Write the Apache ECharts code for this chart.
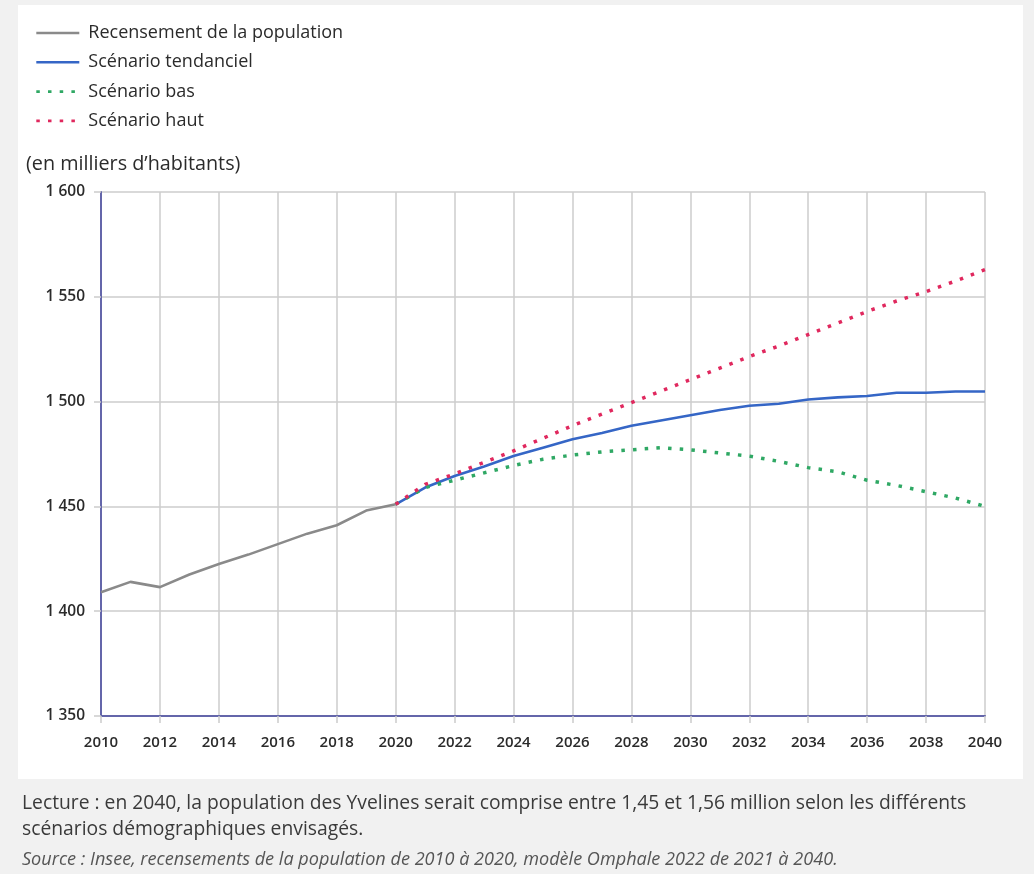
<!DOCTYPE html>
<html>
<head>
<meta charset="utf-8">
<script src="https://cdn.jsdelivr.net/npm/echarts@6/dist/echarts.min.js"></script>
<style>
  html, body { margin: 0; padding: 0; background: #f1f1f1; }
  #chart { width: 1034px; height: 874px; }
</style>
</head>
<body>
<div id="chart"></div>
<script>
// ---- data (en milliers d'habitants) ----
const censusYears = [2010, 2011, 2012, 2013, 2014, 2015, 2016, 2017, 2018, 2019, 2020];
const censusValues = [1409, 1414, 1411.5, 1417.5, 1422.5, 1427, 1432, 1437, 1441, 1448, 1451];

const projYears = [2020, 2021, 2022, 2023, 2024, 2025, 2026, 2027, 2028, 2029, 2030,
                   2031, 2032, 2033, 2034, 2035, 2036, 2037, 2038, 2039, 2040];
const trendValues = [1451, 1459, 1464.5, 1469, 1474, 1478, 1482, 1485, 1488.5, 1491, 1493.5,
                     1496, 1498, 1499, 1501, 1502, 1502.7, 1504.2, 1504.2, 1504.8, 1504.8];
const lowValues = [1451, 1459, 1462.5, 1466, 1469.5, 1472.5, 1474.5, 1476, 1477, 1478, 1477,
                   1475.5, 1474, 1471.5, 1468.5, 1466.5, 1462.5, 1460, 1457, 1454, 1450];
const highValues = [1451, 1460.5, 1465.5, 1471, 1476.5, 1482.5, 1488.5, 1494, 1499.5, 1505, 1510.5,
                    1516, 1521.5, 1526.5, 1532, 1537.5, 1543, 1548, 1552.5, 1557.5, 1563];

const seriesNames = ['Recensement de la population', 'Scénario tendanciel', 'Scénario bas', 'Scénario haut'];
const yMin = 1350, yMax = 1600, yStep = 50;
const xMin = 2010, xMax = 2040, xStep = 2;

const unitLabel = '(en milliers d\u2019habitants)';
const noteLine1 = 'Lecture : en 2040, la population des Yvelines serait comprise entre 1,45 et 1,56 million selon les différents';
const noteLine2 = 'scénarios démographiques envisagés.';
const sourceLine = 'Source : Insee, recensements de la population de 2010 à 2020, modèle Omphale 2022 de 2021 à 2040.';

const pairs = (xs, ys) => xs.map((x, i) => [x, ys[i]]);
const fmtThousands = v => String(v).replace(/\B(?=(\d{3})+(?!\d))/g, ' ');

const chart = echarts.init(document.getElementById('chart'), null, { renderer: 'canvas' });
const FONT = '"Open Sans", "Noto Sans", sans-serif';

chart.setOption({
  backgroundColor: 'transparent',
  animation: false,
  textStyle: { fontFamily: FONT },
  graphic: [
    { type: 'rect', z: -10, silent: true,
      shape: { x: 18, y: 5, width: 1005, height: 774 },
      style: { fill: '#ffffff' } },
    { type: 'text', left: 26, top: 154,
      style: { text: unitLabel, font: '19.8px ' + FONT, fill: '#2b2b2b' } },
    { type: 'text', left: 22, top: 794,
      style: { text: noteLine1, font: '19.3px ' + FONT, fill: '#3a3a3a' } },
    { type: 'text', left: 22, top: 820,
      style: { text: noteLine2, font: '19.3px ' + FONT, fill: '#3a3a3a' } },
    { type: 'text', left: 22, top: 851,
      style: { text: sourceLine, font: 'italic 18.1px ' + FONT, fill: '#555' } }
  ],
  legend: {
    orient: 'vertical',
    left: 30,
    top: 19,
    itemWidth: 43,
    itemHeight: 18,
    itemGap: 11.3,
    data: seriesNames,
    itemStyle: { opacity: 0 },
    lineStyle: { width: 2.6 },
    textStyle: { fontSize: 18, color: '#2b2b2b', fontFamily: FONT, padding: [0, 0, 0, 4] }
  },
  grid: { left: 101, right: 49, top: 192, bottom: 158, containLabel: false },
  xAxis: {
    type: 'value',
    min: xMin, max: xMax, interval: xStep,
    axisLine: { show: true, lineStyle: { color: '#6466aa', width: 2 } },
    axisTick: { show: true, length: 7, lineStyle: { color: '#cccccc', width: 1.5 } },
    splitLine: { show: true, lineStyle: { color: '#cccccc', width: 1.5 } },
    axisLabel: { color: '#2b2b2b', fontSize: 15, fontWeight: 600, margin: 19, fontFamily: FONT,
                 formatter: v => String(v) }
  },
  yAxis: {
    type: 'value',
    min: yMin, max: yMax, interval: yStep,
    axisLine: { show: true, lineStyle: { color: '#6466aa', width: 2 } },
    axisTick: { show: true, length: 7, lineStyle: { color: '#cccccc', width: 1.5 } },
    splitLine: { show: true, lineStyle: { color: '#cccccc', width: 1.5 } },
    axisLabel: { color: '#2b2b2b', fontSize: 15.5, fontWeight: 600, margin: 16, fontFamily: FONT,
                 formatter: v => fmtThousands(v) }
  },
  series: [
    { name: seriesNames[0], type: 'line', data: pairs(censusYears, censusValues),
      symbol: 'none', color: '#8a8a8a', lineStyle: { color: '#8a8a8a', width: 2.6 }, z: 2 },
    { name: seriesNames[1], type: 'line', data: pairs(projYears, trendValues),
      symbol: 'none', color: '#3566c6', lineStyle: { color: '#3566c6', width: 2.6 }, z: 3 },
    { name: seriesNames[2], type: 'line', data: pairs(projYears, lowValues),
      symbol: 'none', color: '#2fa864',
      lineStyle: { color: '#2fa864', width: 3.5, type: [3.5, 8.2], cap: 'butt' }, z: 4 },
    { name: seriesNames[3], type: 'line', data: pairs(projYears, highValues),
      symbol: 'none', color: '#e0285e',
      lineStyle: { color: '#e0285e', width: 3.5, type: [3.5, 8.2], cap: 'butt' }, z: 5 }
  ]
});
</script>
</body>
</html>
